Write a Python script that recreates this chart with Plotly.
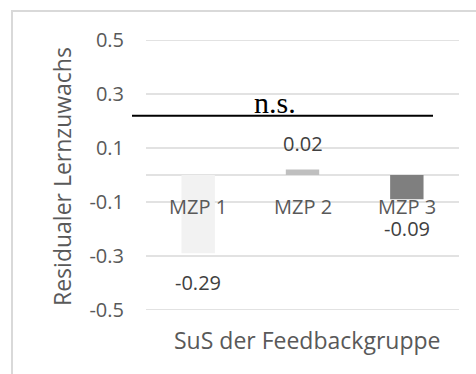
import plotly.graph_objects as go

# Residual learning gain of the feedback group per measurement point
categories = ["MZP 1", "MZP 2", "MZP 3"]
values = [-0.29, 0.02, -0.09]
bar_colors = ["#f2f2f2", "#bfbfbf", "#7f7f7f"]
y_ticks = [-0.5, -0.3, -0.1, 0.1, 0.3, 0.5]
y_tick_text = ["-0.5", "-0.3", "-0.1", "0.1", "0.3", "0.5"]
grid_levels = [-0.5, -0.3, -0.1, 0.0, 0.1, 0.3, 0.5]
y_title = "Residualer Lernzuwachs"
x_title = "SuS der Feedbackgruppe"
significance = "n.s."

W, H = 476, 374
ML, MR, MT, MB = 146, 17, 40, 64
PW, PH = W - ML - MR, H - MT - MB


def px_x(px):
    return (px - ML) / PW


def px_y(py):
    return (H - MB - py) / PH


FONT = "Open Sans"
AXIS_COLOR = "#595959"
LABEL_COLOR = "#404040"
GRID = "#d9d9d9"

fig = go.Figure(
    go.Bar(
        x=categories,
        y=values,
        marker=dict(color=bar_colors, line=dict(width=0)),
        width=0.32,
        hoverinfo="skip",
    )
)

# horizontal grid lines (including the category axis at zero)
for level in grid_levels:
    fig.add_shape(
        type="line", xref="paper", yref="y",
        x0=0, x1=1, y0=level, y1=level,
        line=dict(color=GRID, width=1.6),
        layer="below",
    )

# category labels sit on the zero line, drawn above the bars
for cat in categories:
    fig.add_annotation(
        x=cat, y=0, xref="x", yref="y",
        text=cat, showarrow=False,
        yanchor="middle", yshift=-31,
        font=dict(family=FONT, size=20, color=AXIS_COLOR),
    )

# value labels beyond the bar ends
for cat, val in zip(categories, values):
    fig.add_annotation(
        x=cat, y=val, xref="x", yref="y",
        text=f"{val:.2f}",
        showarrow=False,
        yanchor="middle",
        yshift=26 if val >= 0 else -29,
        font=dict(family=FONT, size=20, color=LABEL_COLOR),
    )

# axis titles
fig.add_annotation(
    x=px_x(62), y=px_y(177), xref="paper", yref="paper",
    text=y_title, textangle=-90, showarrow=False,
    xanchor="center", yanchor="middle",
    font=dict(family=FONT, size=23, color=AXIS_COLOR),
)
fig.add_annotation(
    x=px_x(307), y=px_y(340), xref="paper", yref="paper",
    text=x_title, showarrow=False,
    xanchor="center", yanchor="middle",
    font=dict(family=FONT, size=23, color=AXIS_COLOR),
)

# significance bracket
fig.add_annotation(
    x=px_x(275), y=px_y(102), xref="paper", yref="paper",
    text=significance, showarrow=False,
    xanchor="center", yanchor="middle",
    font=dict(family="Liberation Serif", size=30, color="#000000"),
)
fig.add_shape(
    type="line", xref="paper", yref="paper",
    x0=px_x(132), x1=px_x(433), y0=px_y(115.8), y1=px_y(115.8),
    line=dict(color="#000000", width=2),
)

# chart frame
fig.add_shape(
    type="rect", xref="paper", yref="paper",
    x0=px_x(12), x1=px_x(490), y0=px_y(11), y1=px_y(390),
    line=dict(color=GRID, width=2),
)

fig.update_layout(
    width=W, height=H,
    margin=dict(l=ML, r=MR, t=MT, b=MB, pad=0),
    paper_bgcolor="white",
    plot_bgcolor="white",
    showlegend=False,
    xaxis=dict(
        range=[-0.5, 2.5],
        showline=False,
        showgrid=False,
        showticklabels=False,
        ticks="",
        fixedrange=True,
    ),
    yaxis=dict(
        range=[-0.5, 0.5],
        tickmode="array",
        tickvals=y_ticks,
        ticktext=y_tick_text,
        showgrid=False,
        zeroline=False,
        showline=False,
        ticks="",
        ticklabelstandoff=21,
        tickfont=dict(family=FONT, size=20, color=AXIS_COLOR),
        fixedrange=True,
    ),
)

fig.write_html("out.html")
